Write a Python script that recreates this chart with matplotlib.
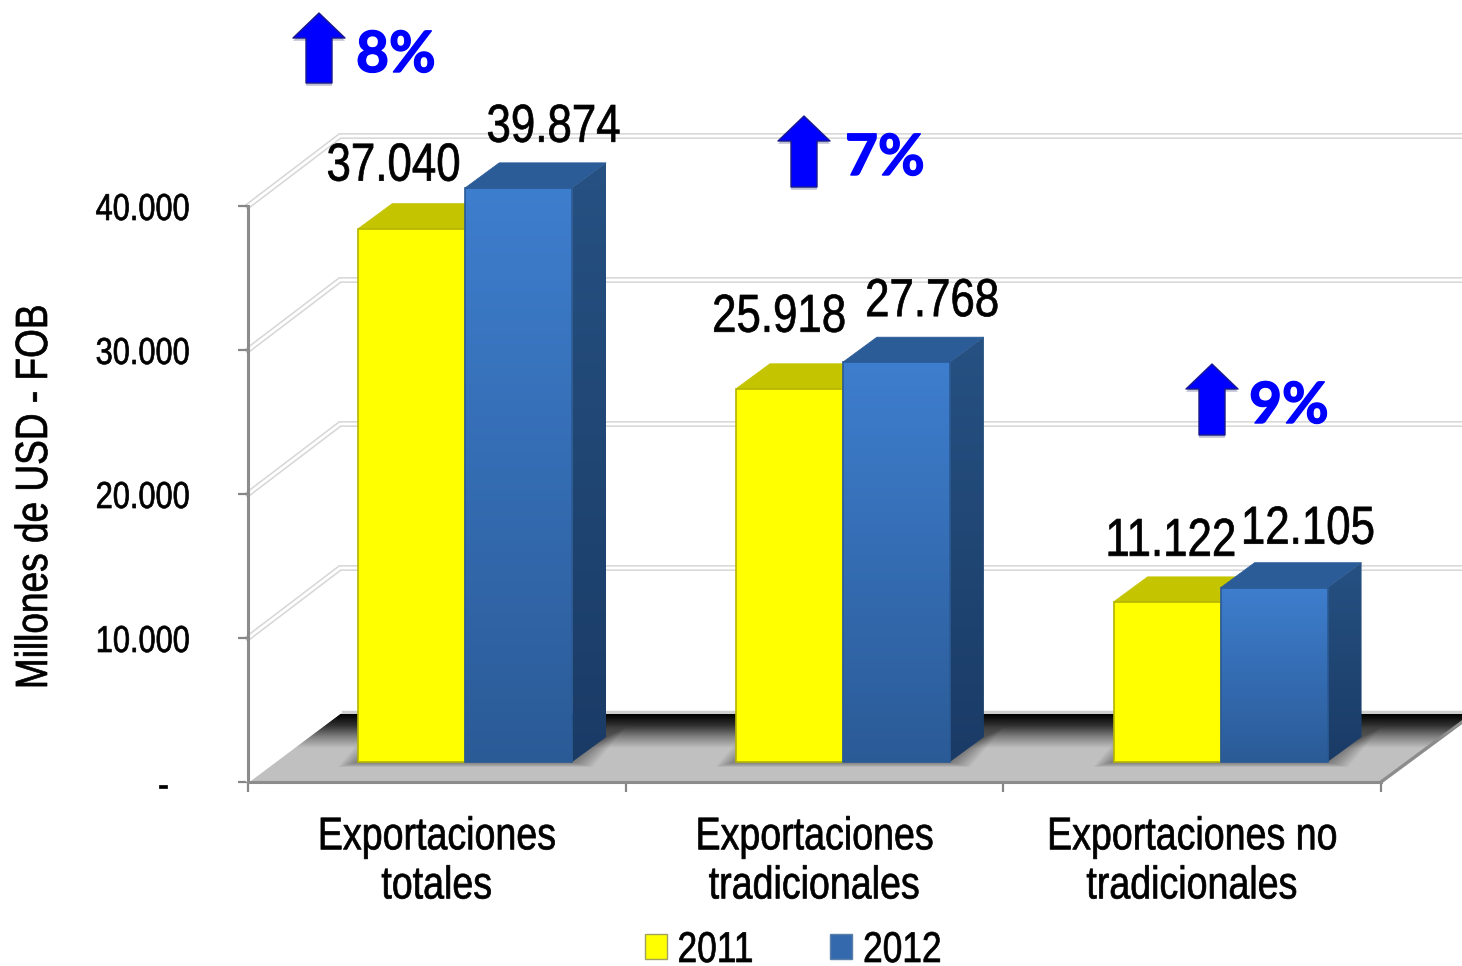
import numpy as np
import matplotlib
matplotlib.use('Agg')
import matplotlib.pyplot as plt
from matplotlib.colors import LinearSegmentedColormap
from matplotlib.patches import Polygon, Patch
from matplotlib.transforms import Affine2D
import matplotlib.patheffects as pe

plt.rcParams['font.family'] = ['Liberation Sans', 'DejaVu Sans']

# datos
categorias = ['Exportaciones\ntotales', 'Exportaciones\ntradicionales', 'Exportaciones no\ntradicionales']
valores_2011 = [37040, 25918, 11122]
valores_2012 = [39874, 27768, 12105]
variacion = ['8%', '7%', '9%']
ticks_y = [0, 10000, 20000, 30000, 40000]
etiquetas_y = ['-   ', '10.000', '20.000', '30.000', '40.000']

W, H = 1462, 966
PX_X = 377.67        # pixeles por categoria
PX_Y = 0.0144        # pixeles por unidad de valor


class Estrecho(pe.AbstractPathEffect):
    """Angosta el texto en horizontal (no hay Arial Narrow instalada)."""

    def __init__(self, factor=0.82):
        super().__init__()
        self.factor = factor

    def draw_path(self, renderer, gc, tpath, affine, rgbFace=None):
        ext = tpath.get_extents()
        cx = (ext.x0 + ext.x1) / 2
        t = Affine2D().translate(-cx, 0).scale(self.factor, 1).translate(cx, 0) + affine
        gc0 = renderer.new_gc()
        gc0.copy_properties(gc)
        gc0.set_linewidth(0.5)
        gc0.set_foreground('black')
        renderer.draw_path(gc0, tpath, t, rgbFace)
        gc0.restore()


ESTRECHO = [Estrecho()]

fig = plt.figure(figsize=(W / 100, H / 100), dpi=100)
ax = fig.add_axes([248 / W, (H - 782) / H, 1133 / W, 576 / H])
ax.patch.set_alpha(0)


def ux(px):
    return px / PX_X


def uy(px):
    return px / PX_Y


def degradado(puntos, arriba, abajo, z):
    """Poligono relleno con degradado vertical."""
    puntos = np.array(puntos)
    cmap = LinearSegmentedColormap.from_list('g', [arriba, abajo])
    extent = [puntos[:, 0].min(), puntos[:, 0].max(), puntos[:, 1].min(), puntos[:, 1].max()]
    im = ax.imshow(np.linspace(0, 1, 256).reshape(-1, 1), cmap=cmap, extent=extent,
                   origin='upper', aspect='auto', zorder=z, interpolation='bilinear')
    pol = Polygon(puntos, closed=True, transform=ax.transData)
    im.set_clip_box(fig.bbox)
    im.set_clip_path(pol)


# pared: lineas de la cuadricula
wall_dx, wall_dy = ux(92), uy(70)
x_fin = ux(W - 248)
for v in ticks_y[1:]:
    xs = [0, wall_dx, x_fin]
    ys = [v, v + wall_dy, v + wall_dy]
    ax.plot(xs, ys, color='#d6d6d6', lw=4.2, clip_on=False, zorder=1, solid_joinstyle='miter')
    ax.plot(xs, ys, color='white', lw=2.0, clip_on=False, zorder=1.1, solid_joinstyle='miter')

# piso
floor_dy = uy(68)
ax.plot([wall_dx, x_fin], [wall_dy, wall_dy], color='#d0d0d0', lw=2.5, clip_on=False, zorder=1)
piso = [(0, 0), (3, 0), (3 + wall_dx, floor_dy), (wall_dx, floor_dy)]
ax.add_patch(Polygon(piso, closed=True, fc='#c0c0c0', ec='none', clip_on=False, zorder=2))
cmap_piso = LinearSegmentedColormap.from_list('p', ['#000000', '#303030', '#808080', '#c0c0c0'])
im = ax.imshow(np.linspace(0, 1, 256).reshape(-1, 1), cmap=cmap_piso,
               extent=[0, 3 + wall_dx, floor_dy - uy(34), floor_dy],
               origin='upper', aspect='auto', zorder=2.1, interpolation='bilinear')
im.set_clip_box(fig.bbox)
im.set_clip_path(Polygon(piso, closed=True, transform=ax.transData))
ax.plot([3, 3 + wall_dx], [0, floor_dy], color='#8c8c8c', lw=2.4, clip_on=False, zorder=2.2)
ax.plot([0, wall_dx], [uy(1), floor_dy + uy(2)], color='white', lw=2.5, clip_on=False, zorder=2.2)

# barras
ancho = 107 / PX_X
base_dx, base = ux(28.4), uy(20)
prof_x, prof_y = ux(34), uy(25)
centros = np.arange(3) + 0.5 + base_dx

# sombra de las barras sobre el piso
for c in centros:
    for r in np.arange(20, 0, -2):
        xa, xb = c - ancho - ux(r), c + ancho + ux(r)
        ya, yb = base - uy(r * 0.25), base + prof_y + uy(r * 0.5)
        ax.add_patch(Polygon([(xa, ya), (xb, ya), (xb + prof_x, yb), (xa + prof_x, yb)],
                             closed=True, fc='black', ec='none', alpha=0.04, zorder=3))

barras_11 = ax.bar(centros - ancho / 2, valores_2011, ancho, bottom=base, color='#FFFF00',
                   edgecolor='#B4B400', linewidth=1.2, zorder=5, clip_on=False, label='2011')
barras_12 = ax.bar(centros + ancho / 2, valores_2012, ancho, bottom=base, color='none',
                   edgecolor='#2A5A95', linewidth=1.2, zorder=8, clip_on=False, label='2012')

for b in barras_11:
    x0, x1, y1 = b.get_x(), b.get_x() + b.get_width(), b.get_y() + b.get_height()
    ax.add_patch(Polygon([(x0, y1), (x1, y1), (x1 + prof_x, y1 + prof_y), (x0 + prof_x, y1 + prof_y)],
                         closed=True, fc='#C4C400', ec='#C4C400', lw=0.5, clip_on=False, zorder=4))

for b in barras_12:
    x0, x1, y0, y1 = b.get_x(), b.get_x() + b.get_width(), b.get_y(), b.get_y() + b.get_height()
    ax.add_patch(Polygon([(x0, y1), (x1, y1), (x1 + prof_x, y1 + prof_y), (x0 + prof_x, y1 + prof_y)],
                         closed=True, fc='#2B5C98', ec='#2B5C98', lw=0.5, clip_on=False, zorder=6))
    degradado([(x1, y0), (x1 + prof_x, y0 + prof_y), (x1 + prof_x, y1 + prof_y), (x1, y1)],
              '#265182', '#1A3B66', 6.5)
    degradado([(x0, y0), (x1, y0), (x1, y1), (x0, y1)], '#3E7ECE', '#2B5B97', 7)

# etiquetas de valores
desp_11 = [(-18, 48), (-10, 57), (4, 46)]
desp_12 = [(35, 46), (36, 46), (34, 44)]
for barras, vals, desp in [(barras_11, valores_2011, desp_11), (barras_12, valores_2012, desp_12)]:
    for b, v, d in zip(barras, vals, desp):
        ax.annotate(f'{v:,}'.replace(',', '.'), xy=(b.get_x() + b.get_width() / 2, v + base),
                    xytext=d, textcoords='offset pixels', ha='center', va='baseline',
                    fontsize=38.5, color='black', annotation_clip=False, zorder=10,
                    path_effects=ESTRECHO)

# flechas y porcentajes
flechas = [(319, 13, 83), (804, 116, 187), (1212, 364, 435)]
textos_pos = [(356, 72), (845, 175), (1249, 423)]
for (fx, y_tip, y_base), (tx, ty), txt in zip(flechas, textos_pos, variacion):
    ax.annotate('', xy=(fx, H - y_tip), xytext=(fx, H - y_base),
                xycoords='figure pixels', textcoords='figure pixels', annotation_clip=False,
                arrowprops=dict(facecolor='#0000FF', edgecolor='#1A1A8C', linewidth=1,
                                width=26 * 0.72, headwidth=52 * 0.72, headlength=25 * 0.72, shrink=0,
                                path_effects=[pe.SimplePatchShadow(offset=(0, -2), alpha=0.25), pe.Normal()]),
                zorder=11)
    fig.text(tx / W, 1 - ty / H, txt, fontsize=41, fontweight='bold', color='#0000FF',
             family='Lato', va='baseline', ha='left', zorder=11,
             path_effects=[pe.withStroke(linewidth=1, foreground='#0000FF')])

# ejes
ax.set_xlim(0, 3)
ax.set_ylim(0, 40000)
ax.set_xticks([0, 1, 2, 3])
ax.set_xticklabels([])
ax.set_xticks([0.5, 1.5, 2.5], minor=True)
ax.set_xticklabels(categorias, minor=True, fontsize=33, linespacing=1.15, path_effects=ESTRECHO)
ax.tick_params(axis='x', which='minor', length=0, pad=24)
ax.tick_params(axis='x', which='major', length=7.5, width=1.6, color='#868686')
ax.set_yticks(ticks_y)
ax.set_yticklabels(etiquetas_y, fontsize=27, path_effects=ESTRECHO)
ax.tick_params(axis='y', length=7.5, width=1.6, color='#868686', pad=27)
ax.set_ylabel('Millones de USD - FOB', fontsize=32.5, path_effects=ESTRECHO)
ax.yaxis.set_label_coords((56 - 248) / 1133, (782 - 497) / 576)

for lado in ['top', 'right']:
    ax.spines[lado].set_visible(False)
for lado in ['left', 'bottom']:
    ax.spines[lado].set_color('#8c8c8c')
    ax.spines[lado].set_linewidth(2.2)
    ax.spines[lado].set_zorder(2.5)

# leyenda
handles = [Patch(fc='#FFFF00', ec='#A0A060', label='2011'), Patch(fc='#3569AE', ec='#5A7FA8', label='2012')]
ley = fig.legend(handles=handles, ncol=2, frameon=False, fontsize=31, loc='center',
                 bbox_to_anchor=(797.5 / W, 1 - 951 / H), handlelength=0.5, handleheight=0.5,
                 handletextpad=0.06, columnspacing=1.6, borderpad=0)
for t in ley.get_texts():
    t.set_path_effects(ESTRECHO)

fig.savefig('out.png', dpi=100)
